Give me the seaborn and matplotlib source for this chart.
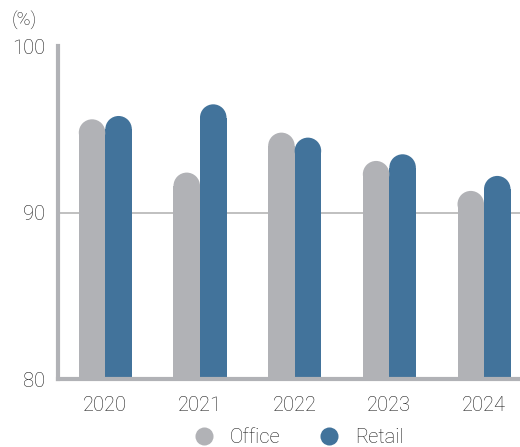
import pandas as pd
import numpy as np
import matplotlib.pyplot as plt
import seaborn as sns
from matplotlib.patches import Ellipse
from matplotlib.lines import Line2D

years = ["2020", "2021", "2022", "2023", "2024"]
office = [95.6, 92.4, 94.8, 93.1, 91.3]
retail = [95.8, 96.5, 94.5, 93.5, 92.2]
series = ["Office", "Retail"]
colors = {"Office": "#b1b2b6", "Retail": "#42739b"}

df = pd.DataFrame({
    "year": years * 2,
    "value": office + retail,
    "series": ["Office"] * len(years) + ["Retail"] * len(years),
})

sns.set_style("white")
plt.rcParams['font.family'] = ['Roboto', 'DejaVu Sans']
plt.rcParams['font.weight'] = 'light'

fig = plt.figure(figsize=(5.2, 4.47), dpi=100)
ax = fig.add_axes([0.1115, 0.152, 0.8885, 0.745])

sns.barplot(data=df, x="year", y="value", hue="series", palette=colors,
            width=0.56, gap=0, saturation=1, legend=False, ax=ax)

ax.set_ylim(80, 100)
ax.set_xlim(-0.5, 4.38)

# rounded tops: convert pixel radius to data units
fig.canvas.draw()
px_per_unit = ax.bbox.height / 20.0
for p in list(ax.patches):
    h = p.get_height()
    w = p.get_width()
    if h <= 0:
        continue
    r_px = w * ax.bbox.width / (4.38 + 0.5) / 2
    r = r_px / px_per_unit
    p.set_height(h - r)
    p.set_linewidth(0)
    cap = Ellipse((p.get_x() + w / 2, h - r), w, 2 * r,
                  facecolor=p.get_facecolor(), edgecolor="none")
    ax.add_patch(cap)

txt = "#1c1c1c"
ax.axhline(90, color="#b5b5b5", lw=1.2, zorder=0)
ax.set_yticks([80, 90, 100])
ax.set_yticklabels(["80", "90", "100"])
ax.tick_params(axis="both", length=0, labelsize=14.5, colors=txt)
ax.tick_params(axis="x", pad=12)
ax.tick_params(axis="y", pad=9)
ax.set_xlabel("")
ax.set_ylabel("")

for s in ["top", "right"]:
    ax.spines[s].set_visible(False)
for s in ["left", "bottom"]:
    ax.spines[s].set_color("#b1b2b6")
    ax.spines[s].set_linewidth(3)

fig.text(0.023, 0.955, "(%)", fontsize=13.5, color=txt, va="center")

handles = [Line2D([], [], marker="o", ls="", markersize=13,
                  markerfacecolor=colors[s], markeredgecolor="none") for s in series]
fig.legend(handles, series, loc="center", bbox_to_anchor=(0.565, 0.022),
           ncol=2, frameon=False, fontsize=14.5, handletextpad=0.3,
           columnspacing=1.4, labelcolor=txt)

fig.savefig("out.png", dpi=100)
